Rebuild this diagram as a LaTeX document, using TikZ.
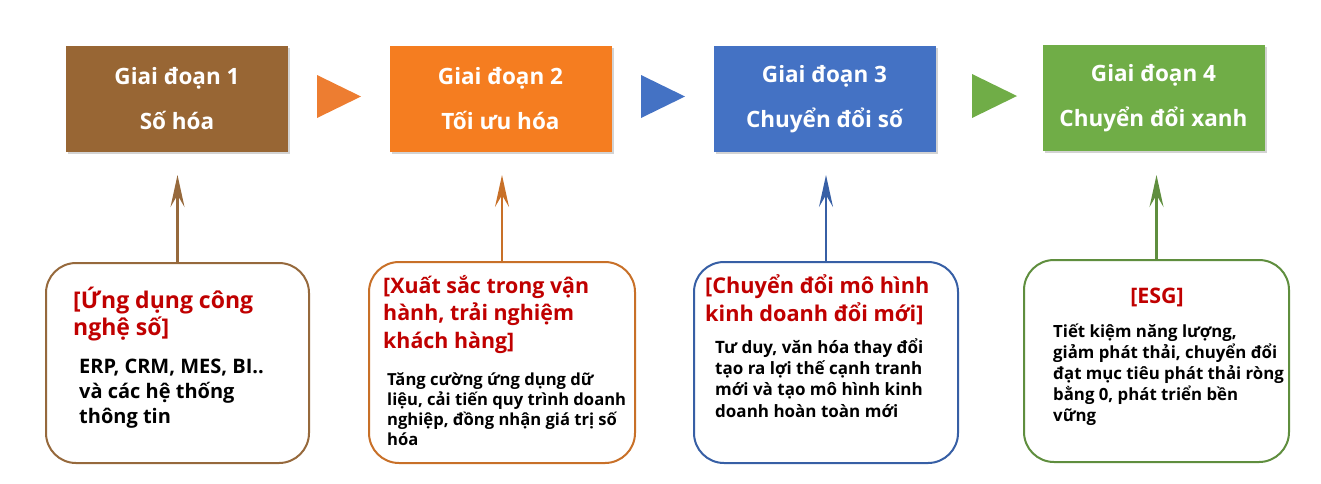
\documentclass[tikz,border=0pt]{standalone}
\usepackage{fontspec}
\setmainfont{Open Sans}
\usetikzlibrary{arrows.meta,shadows}
\definecolor{cBrown}{RGB}{152,102,52}
\definecolor{cOrange}{RGB}{245,125,32}
\definecolor{cBlue}{RGB}{68,114,196}
\definecolor{cGreen}{RGB}{112,173,71}
\definecolor{triOrange}{RGB}{237,125,49}
\definecolor{bdBrown}{RGB}{150,105,60}
\definecolor{bdOrange}{RGB}{200,112,40}
\definecolor{bdBlue}{RGB}{55,95,165}
\definecolor{bdGreen}{RGB}{95,142,62}
\definecolor{cRed}{RGB}{192,0,0}
\tikzset{
  stage/.style={minimum width=222pt, minimum height=106pt, inner sep=0pt,
    text=white, align=center, font=\bfseries\fontsize{22.5}{45}\selectfont,
    drop shadow={shadow xshift=2pt, shadow yshift=-2pt, opacity=0.35}},
  note/.style={draw, line width=2pt, rounded corners=30pt, fill=white, inner sep=0pt},
  ttl/.style={text=cRed, align=left, inner sep=0pt, anchor=base west,
    font=\bfseries\fontsize{21.4}{27.5}\selectfont},
  body/.style={text=black, align=left, inner sep=0pt, anchor=base west,
    font=\bfseries\fontsize{17}{20.5}\selectfont},
  uparrow/.style={line width=2.5pt, -{Stealth[length=32pt, width=14pt, inset=12pt]}}
}
\begin{document}
\begin{tikzpicture}[x=1pt, y=-1pt]
\useasboundingbox (0,0) rectangle (1321,483);
% top stages
\node[stage, fill=cBrown]  (s1) at (177,99)    {Giai đoạn 1\\Số hóa};
\node[stage, fill=cOrange] (s2) at (500.5,99)  {Giai đoạn 2\\Tối ưu hóa};
\node[stage, fill=cBlue]   (s3) at (824.5,99)  {Giai đoạn 3\\Chuyển đổi số};
\node[stage, fill=cGreen]  (s4) at (1153.5,98) {Giai đoạn 4\\Chuyển đổi xanh};
% triangles
\fill[triOrange] (317,75) -- (361,96.5) -- (317,118) -- cycle;
\fill[cBlue]     (641,75) -- (685,96.5) -- (641,118) -- cycle;
\fill[cGreen]    (972,74) -- (1017,96) -- (972,118) -- cycle;
% bottom notes
\node[note, draw=bdBrown,  minimum width=263pt, minimum height=200pt] (nA) at (177.5,363) {};
\node[note, draw=bdOrange, minimum width=266pt, minimum height=201pt] (nB) at (502,362.5) {};
\node[note, draw=bdBlue,   minimum width=264pt, minimum height=201pt] (nC) at (826,362.5) {};
\node[note, draw=bdGreen,  minimum width=265pt, minimum height=202pt] (nD) at (1156.5,361) {};
% arrows
\coordinate (tA) at (177.5,175);
\coordinate (tB) at (502,175);
\coordinate (tC) at (826,175);
\coordinate (tD) at (1156.5,175);
\draw[uparrow, bdBrown]  (nA.north) -- (tA);
\draw[uparrow, bdOrange] (nB.north) -- (tB);
\draw[uparrow, bdBlue]   (nC.north) -- (tC);
\draw[uparrow, bdGreen]  (nD.north) -- (tD);
% texts (anchor = baseline of the last line)
\node[ttl, font=\bfseries\fontsize{23}{27}\selectfont] (ttA) at (73,335) {[Ứng dụng công\\nghệ số]};
\node[body, font=\bfseries\fontsize{20}{25}\selectfont] (bdA) at (79,423) {ERP, CRM, MES, BI..\\và các hệ thống\\thông tin};
\node[ttl] (ttB) at (383,348) {[Xuất sắc trong vận\\hành, trải nghiệm\\khách hàng]};
\node[body, font=\bfseries\fontsize{16.6}{20}\selectfont] (bdB) at (387,445) {Tăng cường ứng dụng dữ\\liệu, cải tiến quy trình doanh\\nghiệp, đồng nhận giá trị số\\hóa};
\node[ttl, font=\bfseries\fontsize{21.7}{28}\selectfont] (ttC) at (705,321) {[Chuyển đổi mô hình\\kinh doanh đổi mới]};
\node[body, font=\bfseries\fontsize{17}{21.3}\selectfont] (bdC) at (715,417) {Tư duy, văn hóa thay đổi\\tạo ra lợi thế cạnh tranh\\mới và tạo mô hình kinh\\doanh hoàn toàn mới};
\node[ttl, anchor=base] (ttD) at (1157,303) {[ESG]};
\node[body, font=\bfseries\fontsize{16.8}{21}\selectfont] (bdD) at (1053,421) {Tiết kiệm năng lượng,\\giảm phát thải, chuyển đổi\\đạt mục tiêu phát thải ròng\\bằng 0, phát triển bền\\vững};
\end{tikzpicture}
\end{document}
